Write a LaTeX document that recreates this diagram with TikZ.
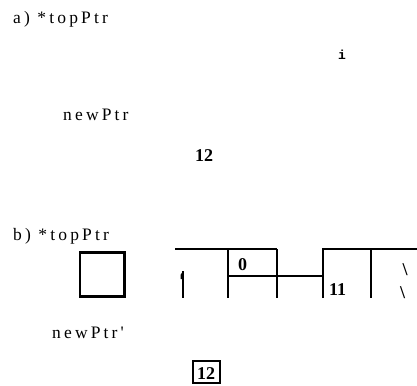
\documentclass[tikz,border=0pt]{standalone}
\usepackage{fontspec}
\setmainfont{Liberation Serif}
\newfontfamily\spaced[LetterSpace=18]{Liberation Serif}
\newfontfamily\monob{Liberation Mono}
\begin{document}
\begin{tikzpicture}[x=1pt,y=-1pt,
  lbl/.style={inner sep=0pt,anchor=base west,font=\spaced\fontsize{17.5}{20}\selectfont},
  num/.style={inner sep=0pt,anchor=base,font=\fontsize{18}{20}\selectfont\bfseries},
  wall/.style={line width=2pt},
  heavy/.style={line width=2.6pt}]
\useasboundingbox (0,0) rectangle (417,385);
% part a
\node[lbl] (alabel) at (13,24) {a) *topPtr};
\node[inner sep=0pt,anchor=base,font=\monob\fontsize{13}{15}\selectfont\bfseries] (ivar) at (342,60) {i};
\node[lbl] (anew) at (63,120.5) {newPtr};
\node[num] (a12) at (204,161) {12};
% part b
\node[lbl] (blabel) at (13,240.5) {b) *topPtr};
\draw[heavy] (80,252.3) rectangle (124.7,296.5);
\coordinate (s1) at (175,249);
\coordinate (s2) at (277,249);
\draw[wall] (s1) -- (s2);
\draw[wall] (228,249) -- (228,298);
\draw[wall] (276.5,249) -- (276.5,298);
\draw[wall] (228,276) -- (323,276);
\draw[wall] (323,298) -- (323,249) -- (417,249);
\draw[wall] (371,249) -- (371,298);
\draw[line width=1.8pt] (183.3,271) -- (183.3,298);
\draw[line width=1.4pt] (183.3,272) -- (181.3,275) -- (181.3,279);
\node[num] (b0) at (242.5,270) {0};
\node[num] (b11) at (337.5,295) {11};
\node[num] (bs1) at (405,275.5) {\textbackslash};
\node[num] (bs2) at (402.5,298) {\textbackslash};
\node[lbl] (bnew) at (52,338) {newPtr'};
\draw[line width=2pt] (193,361) rectangle (219.5,382.5);
\node[num] (b12) at (206.2,379) {12};
\end{tikzpicture}
\end{document}
